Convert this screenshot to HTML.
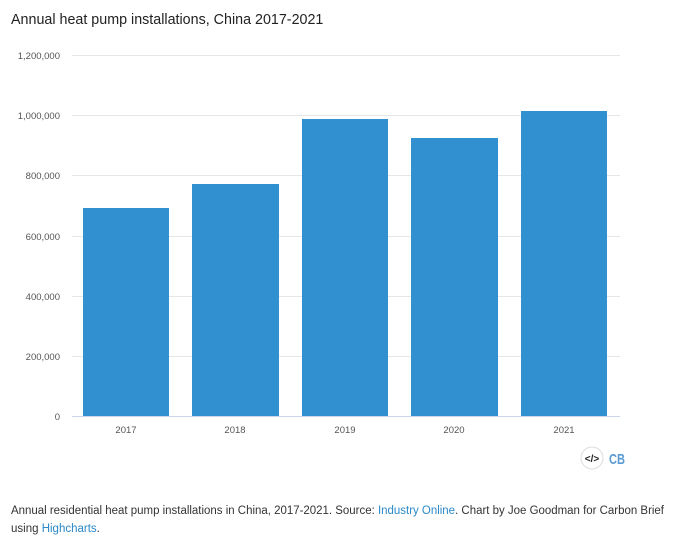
<!DOCTYPE html>
<html><head><meta charset="utf-8"><style>
body{margin:0;background:#fff;width:674px;height:550px;overflow:hidden;font-family:"Liberation Sans",sans-serif}
</style></head><body>
<svg width="674" height="550" xmlns="http://www.w3.org/2000/svg" font-family="Liberation Sans, sans-serif">
<text x="11" y="24" font-size="14.3" fill="#222">Annual heat pump installations, China 2017-2021</text>
<g stroke="#e6e6e6" stroke-width="1">
<line x1="72" x2="620" y1="55.5" y2="55.5"/><line x1="72" x2="620" y1="115.5" y2="115.5"/>
<line x1="72" x2="620" y1="175.5" y2="175.5"/><line x1="72" x2="620" y1="236.5" y2="236.5"/>
<line x1="72" x2="620" y1="296.5" y2="296.5"/><line x1="72" x2="620" y1="356.5" y2="356.5"/>
</g>
<g font-size="9.5" fill="#555" text-anchor="end">
<text x="60" y="59">1,200,000</text><text x="60" y="119">1,000,000</text>
<text x="60" y="179">800,000</text><text x="60" y="240">600,000</text>
<text x="60" y="300">400,000</text><text x="60" y="360">200,000</text>
<text x="60" y="420">0</text>
</g>
<g fill="#3090d0">
<rect x="83" y="208" width="86" height="208"/>
<rect x="192" y="184" width="87" height="232"/>
<rect x="302" y="119" width="86" height="297"/>
<rect x="411" y="138" width="87" height="278"/>
<rect x="521" y="111" width="86" height="305"/>
</g>
<line x1="72" x2="620" y1="416.5" y2="416.5" stroke="#ccd6eb"/>
<g font-size="9.5" fill="#555" text-anchor="middle">
<text x="126" y="433">2017</text><text x="235" y="433">2018</text><text x="345" y="433">2019</text>
<text x="454" y="433">2020</text><text x="564" y="433">2021</text>
</g>
<circle cx="592" cy="458" r="11" fill="#fff" stroke="#ddd"/>
<text x="592" y="462" font-size="10" font-weight="bold" text-anchor="middle" fill="#222">&lt;/&gt;</text>
<text x="609" y="464" font-size="15" font-weight="bold" fill="#5b9bd5" textLength="16" lengthAdjust="spacingAndGlyphs">CB</text>
<text x="11" y="514" font-size="11.5" fill="#333" textLength="653" lengthAdjust="spacingAndGlyphs">Annual residential heat pump installations in China, 2017-2021. Source: <tspan fill="#2a88c8">Industry Online</tspan>. Chart by Joe Goodman for Carbon Brief</text>
<text x="11" y="532" font-size="11.5" fill="#333">using <tspan fill="#2a88c8">Highcharts</tspan>.</text>
</svg>
</body></html>
